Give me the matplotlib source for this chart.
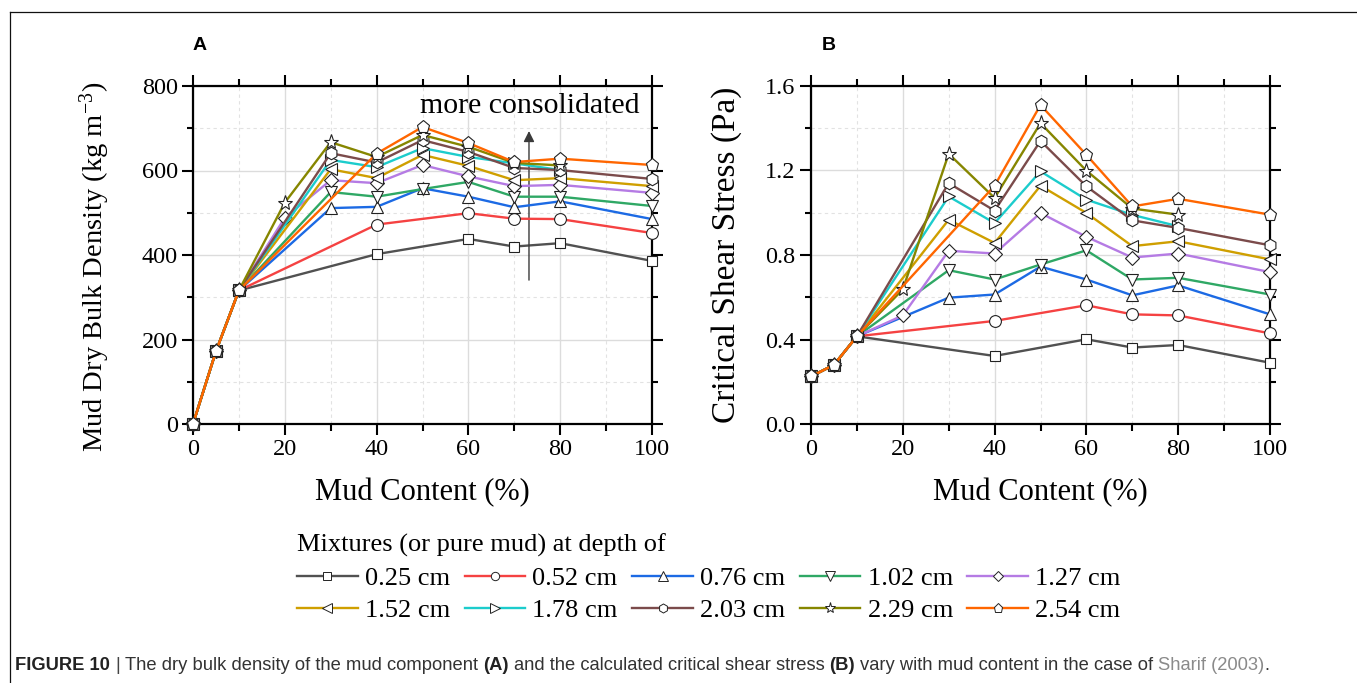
import numpy as np
import matplotlib
matplotlib.use('Agg')
import matplotlib.pyplot as plt
from matplotlib.lines import Line2D
from matplotlib.ticker import MultipleLocator

plt.rcParams['font.family'] = 'Liberation Serif'
plt.rcParams['mathtext.fontset'] = 'custom'
plt.rcParams['mathtext.rm'] = 'Liberation Serif'
plt.rcParams['mathtext.it'] = 'Liberation Serif:italic'

nan = np.nan
mud = [0, 5, 10, 20, 30, 40, 50, 60, 70, 80, 100]
depths = ['0.25 cm', '0.52 cm', '0.76 cm', '1.02 cm', '1.27 cm',
          '1.52 cm', '1.78 cm', '2.03 cm', '2.29 cm', '2.54 cm']

# dry bulk density (kg m-3)
d025 = [0, 172, 316, nan, nan, 402, nan, 438, 420, 428, 386]
d052 = [0, 172, 316, nan, nan, 472, nan, 499, 486, 485, 452]
d076 = [0, 172, 316, nan, 511, 514, 558, 538, 513, 527, 485]
d102 = [0, 172, 316, nan, 549, 538, 556, 573, 538, 538, 516]
d127 = [0, 172, 316, 488, 577, 570, 613, 586, 563, 566, 547]
d152 = [0, 172, 316, nan, 603, 582, 637, 611, 577, 582, 563]
d178 = [0, 172, 316, nan, 625, 608, 653, 632, 617, 601, nan]
d203 = [0, 172, 316, nan, 641, 619, 672, 644, 606, 601, 580]
d229 = [0, 172, 316, 524, 667, 632, 684, 656, 618, 612, nan]
d254 = [0, 172, 316, nan, nan, 640, 703, 665, 620, 628, 613]

# critical shear stress (Pa)
s025 = [0.225, 0.28, 0.415, nan, nan, 0.322, nan, 0.401, 0.362, 0.374, 0.29]
s052 = [0.225, 0.28, 0.415, nan, nan, 0.488, nan, 0.562, 0.519, 0.514, 0.429]
s076 = [0.225, 0.28, 0.415, nan, 0.598, 0.613, 0.745, 0.684, 0.609, 0.656, 0.519]
s102 = [0.225, 0.28, 0.415, nan, 0.728, 0.684, 0.755, 0.822, 0.684, 0.692, 0.613]
s127 = [0.225, 0.28, 0.415, 0.514, 0.82, 0.807, 0.999, 0.886, 0.788, 0.807, 0.719]
s152 = [0.225, 0.28, 0.415, nan, 0.967, 0.857, 1.128, 0.999, 0.842, 0.865, 0.779]
s178 = [0.225, 0.28, 0.415, nan, 1.077, 0.951, 1.196, 1.062, 0.99, 0.936, nan]
s203 = [0.225, 0.28, 0.415, nan, 1.14, 1.01, 1.34, 1.125, 0.964, 0.928, 0.846]
s229 = [0.225, 0.28, 0.415, 0.637, 1.279, 1.07, 1.424, 1.199, 1.02, 0.991, nan]
s254 = [0.225, 0.28, 0.415, nan, nan, 1.128, 1.51, 1.274, 1.03, 1.066, 0.991]

density = [d025, d052, d076, d102, d127, d152, d178, d203, d229, d254]
stress = [s025, s052, s076, s102, s127, s152, s178, s203, s229, s254]

colors = ['#515151', '#f54242', '#1c6ae4', '#2fa865', '#b57be4',
          '#cf9f00', '#1ccccc', '#7b4b4b', '#868600', '#ff6600']
markers = ['s', 'o', '^', 'v', 'D', '<', '>', 'h', '*', 'p']
msizes = [7.5, 8.5, 9, 9, 7, 9, 9, 9, 11, 9.5]
lsizes = [5.5, 6, 6.5, 6.5, 5, 6.5, 6.5, 6.5, 8, 6.5]

W, H = 1357, 683
fig = plt.figure(figsize=(W / 100, H / 100), dpi=100)


def px_axes(x0, x1, y0, y1):
    return fig.add_axes([x0 / W, 1 - y1 / H, (x1 - x0) / W, (y1 - y0) / H])


def style(ax, ymax, ymajor):
    ax.set_xlim(0, 100)
    ax.set_ylim(0, ymax)
    ax.xaxis.set_major_locator(MultipleLocator(20))
    ax.xaxis.set_minor_locator(MultipleLocator(10))
    ax.yaxis.set_major_locator(MultipleLocator(ymajor))
    ax.yaxis.set_minor_locator(MultipleLocator(ymajor / 2))
    ax.tick_params(which='both', direction='out', top=True, right=True,
                   width=1.5, labelsize=17.5, pad=3)
    ax.tick_params(which='major', length=8)
    ax.tick_params(which='minor', length=4.5)
    ax.tick_params(axis='x', which='minor', length=5)
    for s in ax.spines.values():
        s.set_linewidth(1.6)
    ax.grid(which='major', color='#dcdcdc', lw=1.0, ls='-')
    ax.grid(which='minor', color='#e2e2e2', lw=0.8, ls=(0, (3, 3)))
    ax.set_axisbelow(True)
    ax.set_xlabel('Mud Content (%)', fontsize=22, labelpad=13)


def draw(ax, series):
    x = np.array(mud, dtype=float)
    for i, ys in enumerate(series):
        y = np.array(ys, dtype=float)
        ok = ~np.isnan(y)
        ax.plot(x[ok], y[ok], color=colors[i], lw=1.7, marker=markers[i],
                ms=msizes[i], mfc='white', mec='#222222', mew=0.8,
                clip_on=False, zorder=3 + i)


axA = px_axes(193, 652, 86, 424)
draw(axA, density)
style(axA, 800, 200)
axA.set_ylabel('Mud Dry Bulk Density (kg m$^{-3}$)', fontsize=20.5)
axA.yaxis.set_label_coords(-0.177, 0.465)
axA.annotate('', xy=(73.2, 700), xytext=(73.2, 334),
             arrowprops=dict(arrowstyle='-|>', color='#3a3a3a', lw=1.0,
                             mutation_scale=16))
axA.text(73.4, 752, 'more consolidated', fontsize=21.5, ha='center',
         va='center', zorder=20)

axB = px_axes(811, 1270, 86, 424)
draw(axB, stress)
style(axB, 1.6, 0.4)
axB.yaxis.set_major_formatter(matplotlib.ticker.FormatStrFormatter('%.1f'))
axB.set_ylabel('Critical Shear Stress (Pa)', fontsize=24)
axB.yaxis.set_label_coords(-0.151, 0.5)

# panel letters
fig.text(200 / W, 1 - 45 / H, 'A', family='Liberation Sans', weight='bold',
         fontsize=14, ha='center', va='center')
fig.text(829 / W, 1 - 45 / H, 'B', family='Liberation Sans', weight='bold',
         fontsize=14, ha='center', va='center')

# legend, filled row by row
handles = [Line2D([], [], color=colors[i], lw=1.7, marker=markers[i],
                  ms=lsizes[i], mfc='white', mec='#222222', mew=0.7)
           for i in range(10)]
order = [0, 5, 1, 6, 2, 7, 3, 8, 4, 9]
leg = fig.legend([handles[i] for i in order], [depths[i] for i in order],
                 loc='upper left', bbox_to_anchor=(297 / W, 1 - 534 / H),
                 ncol=5, frameon=False, fontsize=19,
                 title='Mixtures (or pure mud) at depth of', title_fontsize=19,
                 handlelength=2.3, handletextpad=0.27, columnspacing=0.55,
                 labelspacing=0.34, borderaxespad=0, borderpad=0,
                 alignment='left')

# frame lines of the figure panel
fig.add_artist(Line2D([10 / W, 1], [1 - 12 / H, 1 - 12 / H], color='#111111',
                      lw=0.9, transform=fig.transFigure))
fig.add_artist(Line2D([10 / W, 10 / W], [1 - 12 / H, 0], color='#111111',
                      lw=0.9, transform=fig.transFigure))

# caption
pieces = [('FIGURE 10', 'bold', '#222222'), ('|', 'normal', '#444444'),
          ('The dry bulk density of the mud component', 'normal', '#333333'),
          ('(A)', 'bold', '#222222'),
          ('and the calculated critical shear stress', 'normal', '#333333'),
          ('(B)', 'bold', '#222222'),
          ('vary with mud content in the case of', 'normal', '#333333'),
          ('Sharif (2003)', 'normal', '#8a8a8a'), ('.', 'normal', '#333333')]
renderer = fig.canvas.get_renderer()
xpos = 15
cap_fs = 13.2
space = 0.278 * cap_fs * 100 / 72
for k, (txt, wt, col) in enumerate(pieces):
    t = fig.text(xpos / W, 1 - 666 / H, txt, family='Liberation Sans',
                 weight=wt, color=col, fontsize=cap_fs, ha='left', va='center')
    w = t.get_window_extent(renderer).width
    gap = 0 if (k + 1 < len(pieces) and pieces[k + 1][0] == '.') else space
    xpos += w + gap

fig.savefig('out.png', dpi=100)
